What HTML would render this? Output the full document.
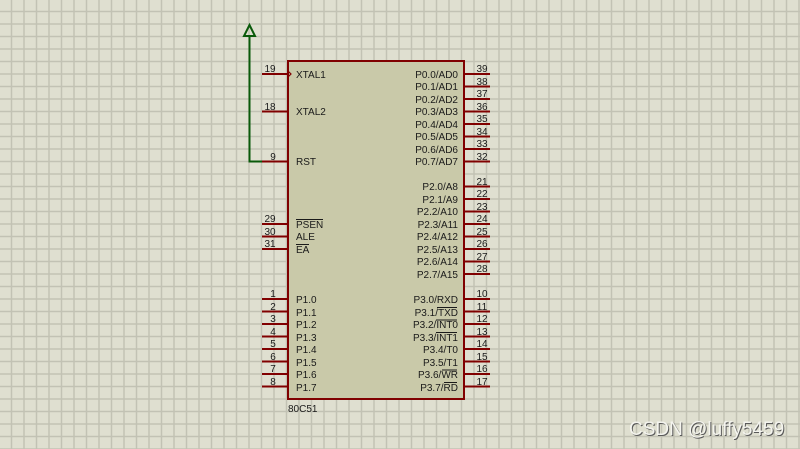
<!DOCTYPE html>
<html><head><meta charset="utf-8"><style>
html,body{margin:0;padding:0;width:800px;height:449px;overflow:hidden;background:#dfdfd0}
text{font-family:"Liberation Sans",sans-serif;font-size:10px;fill:#1a1a1a}
</style></head><body>
<svg width="800" height="449" viewBox="0 0 800 449" xmlns="http://www.w3.org/2000/svg">
<defs>
<pattern id="g" x="10.75" y="10.75" width="12.5" height="12.5" patternUnits="userSpaceOnUse">
<path d="M0 0.75H12.5M0.75 0V12.5" stroke="#c2c2b4" stroke-width="1.5" fill="none"/>
</pattern>
</defs>
<rect width="800" height="449" fill="#dfdfd0"/>
<rect width="800" height="449" fill="url(#g)"/>

<!-- green wire -->
<path d="M249.5 35V161.5H262" stroke="#0a5a0a" stroke-width="2" fill="none"/>
<path d="M249.5 25L244 36H255Z" stroke="#0a5a0a" stroke-width="2" fill="none"/>

<!-- chip -->
<rect x="288" y="61" width="176" height="338" fill="#c9c9a9" stroke="#800000" stroke-width="2"/>

<g stroke="#800000" stroke-width="2">
<path d="M262 74H288M262 111.5H288M262 161.5H288M262 224H288M262 236.5H288M262 249H288"/>
<path d="M262 299H288M262 311.5H288M262 324H288M262 336.5H288M262 349H288M262 361.5H288M262 374H288M262 386.5H288"/>
<path d="M464 74H490M464 86.5H490M464 99H490M464 111.5H490M464 124H490M464 136.5H490M464 149H490M464 161.5H490"/>
<path d="M464 186.5H490M464 199H490M464 211.5H490M464 224H490M464 236.5H490M464 249H490M464 261.5H490M464 274H490"/>
<path d="M464 299H490M464 311.5H490M464 324H490M464 336.5H490M464 349H490M464 361.5H490M464 374H490M464 386.5H490"/>
</g>
<path d="M288 71L291 74L288 77" stroke="#800000" stroke-width="1.2" fill="none"/>

<g text-anchor="middle">
<text x="270" y="72">19</text><text x="270" y="110">18</text><text x="273" y="160">9</text>
<text x="270" y="222">29</text><text x="270" y="235">30</text><text x="270" y="247">31</text>
<text x="273" y="297">1</text><text x="273" y="310">2</text><text x="273" y="322">3</text><text x="273" y="335">4</text>
<text x="273" y="347">5</text><text x="273" y="360">6</text><text x="273" y="372">7</text><text x="273" y="385">8</text>
</g>
<g>
<text x="296" y="78">XTAL1</text><text x="296" y="115">XTAL2</text><text x="296" y="165">RST</text>
<text x="296" y="228">PSEN</text><text x="296" y="240">ALE</text><text x="296" y="253">EA</text>
<text x="296" y="303">P1.0</text><text x="296" y="316">P1.1</text><text x="296" y="328">P1.2</text><text x="296" y="341">P1.3</text>
<text x="296" y="353">P1.4</text><text x="296" y="366">P1.5</text><text x="296" y="378">P1.6</text><text x="296" y="391">P1.7</text>
</g>
<g stroke="#1a1a1a" stroke-width="1">
<path d="M296 219.5H323M296 244.5H309"/>
<path d="M437 307.5H457M436 320H457M436 332.5H457M442 370H457M444 382.5H457"/>
</g>
<g text-anchor="end">
<text x="458" y="78">P0.0/AD0</text><text x="458" y="90">P0.1/AD1</text><text x="458" y="103">P0.2/AD2</text><text x="458" y="115">P0.3/AD3</text>
<text x="458" y="128">P0.4/AD4</text><text x="458" y="140">P0.5/AD5</text><text x="458" y="153">P0.6/AD6</text><text x="458" y="165">P0.7/AD7</text>
<text x="458" y="190">P2.0/A8</text><text x="458" y="203">P2.1/A9</text><text x="458" y="215">P2.2/A10</text><text x="458" y="228">P2.3/A11</text>
<text x="458" y="240">P2.4/A12</text><text x="458" y="253">P2.5/A13</text><text x="458" y="265">P2.6/A14</text><text x="458" y="278">P2.7/A15</text>
<text x="458" y="303">P3.0/RXD</text><text x="458" y="316">P3.1/TXD</text><text x="458" y="328">P3.2/INT0</text><text x="458" y="341">P3.3/INT1</text>
<text x="458" y="353">P3.4/T0</text><text x="458" y="366">P3.5/T1</text><text x="458" y="378">P3.6/WR</text><text x="458" y="391">P3.7/RD</text>
</g>
<g text-anchor="middle">
<text x="482" y="72">39</text><text x="482" y="85">38</text><text x="482" y="97">37</text><text x="482" y="110">36</text>
<text x="482" y="122">35</text><text x="482" y="135">34</text><text x="482" y="147">33</text><text x="482" y="160">32</text>
<text x="482" y="185">21</text><text x="482" y="197">22</text><text x="482" y="210">23</text><text x="482" y="222">24</text>
<text x="482" y="235">25</text><text x="482" y="247">26</text><text x="482" y="260">27</text><text x="482" y="272">28</text>
<text x="482" y="297">10</text><text x="482" y="310">11</text><text x="482" y="322">12</text><text x="482" y="335">13</text>
<text x="482" y="347">14</text><text x="482" y="360">15</text><text x="482" y="372">16</text><text x="482" y="385">17</text>
</g>
<text x="288" y="412">80C51</text>

<text x="630" y="436" style="font-size:19px;fill:#5a5a5a">CSDN @luffy5459</text>
<text x="629" y="435" style="font-size:19px;fill:#f4f4ee">CSDN @luffy5459</text>
</svg>
</body></html>
